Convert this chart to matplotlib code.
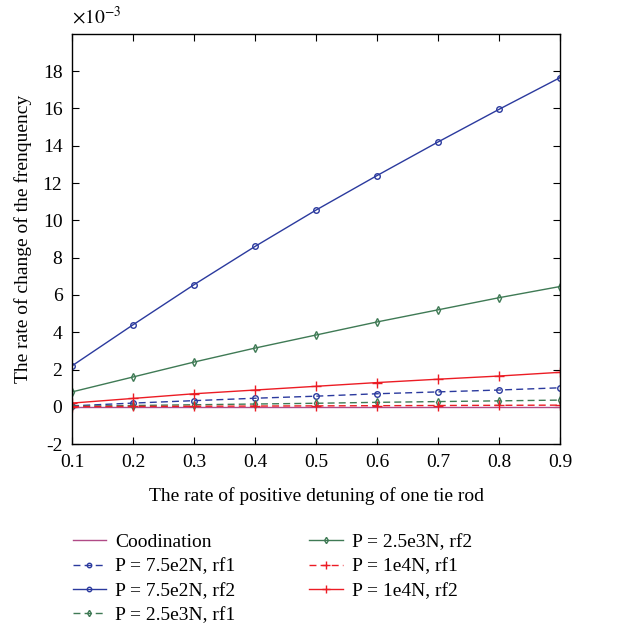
import numpy as np
import matplotlib
matplotlib.use('Agg')
import matplotlib.pyplot as plt

plt.rcParams['font.family'] = ['Liberation Serif', 'DejaVu Serif']
plt.rcParams['mathtext.fontset'] = 'stix'
plt.rcParams['axes.unicode_minus'] = False

x = np.array([0.1, 0.2, 0.3, 0.4, 0.5, 0.6, 0.7, 0.8, 0.9])
coord = [0, 0, 0, 0, 0, 0, 0, 0, 0]
p750_rf1 = [0.05, 0.2, 0.33, 0.46, 0.57, 0.7, 0.8, 0.9, 1.02]
p750_rf2 = [2.2, 4.4, 6.55, 8.6, 10.55, 12.4, 14.2, 15.95, 17.65]
p2500_rf1 = [0.03, 0.07, 0.11, 0.15, 0.19, 0.24, 0.28, 0.32, 0.36]
p2500_rf2 = [0.8, 1.6, 2.4, 3.15, 3.85, 4.55, 5.2, 5.85, 6.45]
p1e4_rf1 = [0.01, 0.02, 0.03, 0.04, 0.05, 0.06, 0.07, 0.08, 0.09]
p1e4_rf2 = [0.2, 0.45, 0.7, 0.9, 1.1, 1.3, 1.48, 1.65, 1.85]

blue = '#2b3a9e'
green = '#3f7a55'
red = '#ec1c24'
purple = '#b04a86'

fig = plt.figure(figsize=(6.27, 6.39), dpi=100)
ax = fig.add_axes([0.115, 0.305, 0.778, 0.642])

ms = 4
dash = (5, 3)
ax.plot(x, coord, '-', color=purple, lw=1, label='Coodination')
ax.plot(x, p750_rf1, '--', dashes=dash, color=blue, marker='o', mfc='none', ms=ms, lw=1, label='P = 7.5e2N, rf1')
ax.plot(x, p750_rf2, '-', color=blue, marker='o', mfc='none', ms=ms, lw=1, label='P = 7.5e2N, rf2')
ax.plot(x, p2500_rf1, '--', dashes=dash, color=green, marker='d', mfc='none', ms=ms, lw=1, label='P = 2.5e3N, rf1')
ax.plot(x, p2500_rf2, '-', color=green, marker='d', mfc='none', ms=ms, lw=1, label='P = 2.5e3N, rf2')
ax.plot(x, p1e4_rf1, '--', dashes=dash, color=red, marker='+', ms=7, lw=1, label='P = 1e4N, rf1')
ax.plot(x, p1e4_rf2, '-', color=red, marker='+', ms=7, lw=1, label='P = 1e4N, rf2')

ax.set_xlim(0.1, 0.9)
ax.set_ylim(-2, 20)
ax.set_xticks(np.arange(0.1, 0.91, 0.1))
ax.set_yticks(np.arange(-2, 19, 2))
ax.tick_params(direction='in', top=True, right=True, labelsize=14, length=5, pad=7)
ax.set_xticklabels(['0.1', '0.2', '0.3', '0.4', '0.5', '0.6', '0.7', '0.8', '0.9'])
ax.set_xlabel('The rate of positive detuning of one tie rod', fontsize=14, labelpad=12)
ax.set_ylabel('The rate of change of the frenquency', fontsize=14, labelpad=8)
ax.text(0.0, 1.015, r'$\times10^{-3}$', transform=ax.transAxes, fontsize=14, va='bottom')
for s in ax.spines.values():
    s.set_linewidth(1)

leg = ax.legend(loc='upper left', bbox_to_anchor=(-0.035, -0.175), ncol=2, frameon=False,
                fontsize=14, handlelength=1.7, handletextpad=0.5, columnspacing=3.8,
                labelspacing=0.35, markerscale=0.8)

fig.savefig('out.png', dpi=100)
